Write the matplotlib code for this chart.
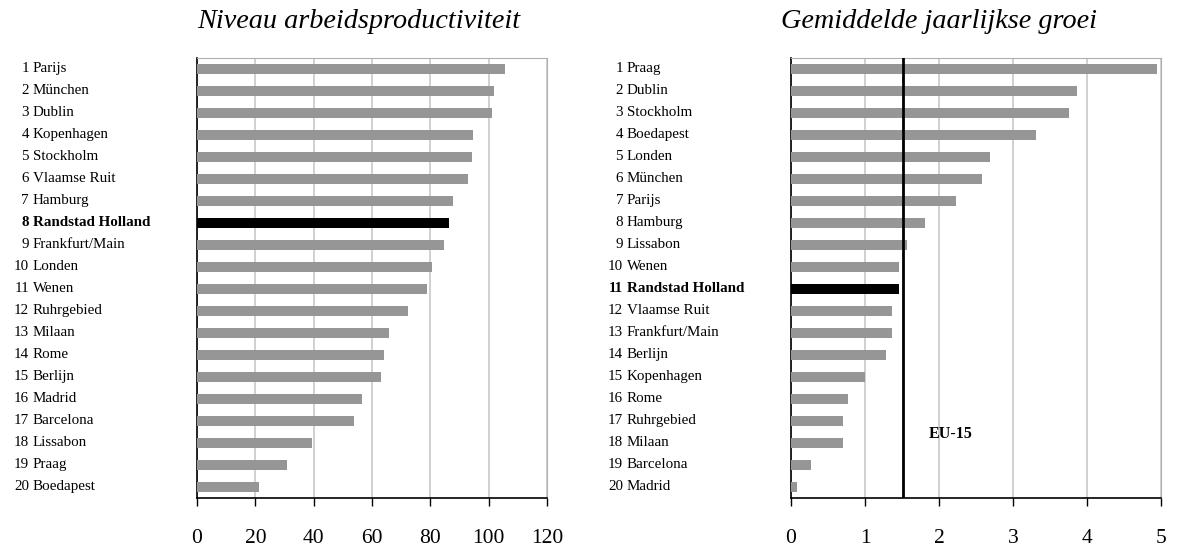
import matplotlib
matplotlib.use("Agg")
import matplotlib.pyplot as plt
from matplotlib.transforms import blended_transform_factory

left_title = "Niveau arbeidsproductiviteit"
left_names = ["Parijs", "München", "Dublin", "Kopenhagen", "Stockholm", "Vlaamse Ruit",
              "Hamburg", "Randstad Holland", "Frankfurt/Main", "Londen", "Wenen",
              "Ruhrgebied", "Milaan", "Rome", "Berlijn", "Madrid", "Barcelona",
              "Lissabon", "Praag", "Boedapest"]
left_values = [105.5, 101.7, 101.0, 94.5, 94.2, 93.0, 87.7, 86.3, 84.6, 80.5, 79.0,
               72.3, 65.8, 64.0, 63.0, 56.5, 53.8, 39.4, 31.0, 21.2]
left_ticks = [0, 20, 40, 60, 80, 100, 120]

right_title = "Gemiddelde jaarlijkse groei"
right_names = ["Praag", "Dublin", "Stockholm", "Boedapest", "Londen", "München", "Parijs",
               "Hamburg", "Lissabon", "Wenen", "Randstad Holland", "Vlaamse Ruit",
               "Frankfurt/Main", "Berlijn", "Kopenhagen", "Rome", "Ruhrgebied", "Milaan",
               "Barcelona", "Madrid"]
right_values = [4.94, 3.86, 3.76, 3.31, 2.69, 2.58, 2.23, 1.81, 1.57, 1.46, 1.46, 1.36,
                1.36, 1.28, 1.00, 0.77, 0.70, 0.70, 0.27, 0.08]
right_ticks = [0, 1, 2, 3, 4, 5]
eu15_value = 1.51
eu15_label = "EU-15"
highlight = "Randstad Holland"

plt.rcParams['font.family'] = ['Liberation Serif', 'DejaVu Serif']

W, H = 1178, 550
fig = plt.figure(figsize=(W / 100, H / 100), dpi=100)

def px_ax(x0, x1, y0, y1):
    return fig.add_axes([x0 / W, 1 - y1 / H, (x1 - x0) / W, (y1 - y0) / H])

def draw(ax, names, values, ticks, num_x, name_x, title, title_x):
    n = len(names)
    ys = list(range(n))
    colors = ["black" if nm == highlight else "#969696" for nm in names]
    ax.barh(ys, values, height=0.47, color=colors, zorder=3)
    ax.set_ylim(n - 0.5, -0.5)
    ax.set_xlim(ticks[0], ticks[-1])
    ax.set_xticks(ticks)
    ax.set_xticklabels([str(t) for t in ticks], fontsize=15.5)
    ax.tick_params(axis='x', length=6, width=1, color="black", pad=16)
    ax.set_yticks([])
    ax.grid(axis='x', color="#c8c8c8", linewidth=1.2, zorder=0)
    ax.spines['left'].set_color('black')
    ax.spines['bottom'].set_color('black')
    ax.spines['left'].set_linewidth(1.2)
    ax.spines['bottom'].set_linewidth(1.2)
    ax.spines['top'].set_color('#b0b0b0')
    ax.spines['right'].set_color('#b0b0b0')
    tr = blended_transform_factory(fig.transFigure, ax.transData)
    for i, nm in enumerate(names):
        bold = 'bold' if nm == highlight else 'normal'
        ax.text(num_x / W, i, str(i + 1), transform=tr, ha='right', va='center',
                fontsize=10.8, fontweight=bold)
        ax.text(name_x / W, i, nm, transform=tr, ha='left', va='center',
                fontsize=10.8, fontweight=bold)
    fig.text(title_x / W, 1 - 22 / H, title, ha='center', va='center',
             fontsize=20.3, style='italic')

ax1 = px_ax(197, 547, 58, 498)
draw(ax1, left_names, left_values, left_ticks, 29, 33, left_title, 359)

ax2 = px_ax(791, 1161, 58, 498)
draw(ax2, right_names, right_values, right_ticks, 623, 627, right_title, 939)
ax2.axvline(eu15_value, color='black', linewidth=2, zorder=4)
ax2.text(1.86, 16.6, eu15_label, fontsize=11.5, fontweight='bold',
         ha='left', va='center')

fig.savefig("out.png", dpi=100)
